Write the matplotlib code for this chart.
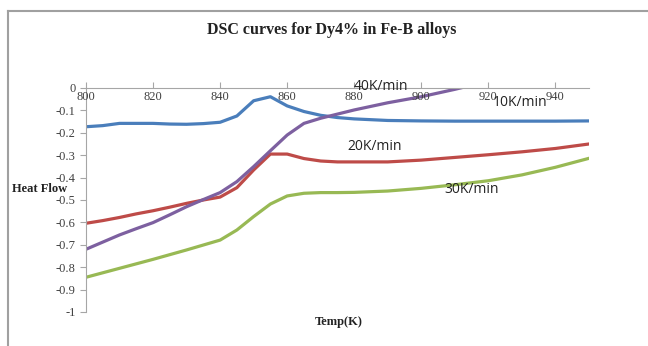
import matplotlib.pyplot as plt
from matplotlib.lines import Line2D

# temperatures (K) and heat flow readings per heating rate
temp = [800, 805, 810, 815, 820, 825, 830, 835, 840, 845, 850, 855, 860, 865,
        870, 875, 880, 890, 900, 910, 920, 930, 940, 950]
flow_10 = [-0.173, -0.168, -0.158, -0.158, -0.158, -0.161, -0.162, -0.159, -0.153,
           -0.125, -0.057, -0.039, -0.08, -0.105, -0.122, -0.132, -0.138, -0.145,
           -0.147, -0.148, -0.148, -0.148, -0.148, -0.147]
flow_20 = [-0.604, -0.592, -0.578, -0.562, -0.548, -0.532, -0.515, -0.5, -0.487,
           -0.445, -0.366, -0.295, -0.295, -0.315, -0.326, -0.33, -0.33, -0.33,
           -0.322, -0.31, -0.298, -0.285, -0.27, -0.25]
flow_30 = [-0.845, -0.825, -0.805, -0.785, -0.765, -0.744, -0.723, -0.701, -0.679,
           -0.634, -0.574, -0.518, -0.482, -0.47, -0.467, -0.467, -0.466, -0.46,
           -0.448, -0.432, -0.414, -0.388, -0.354, -0.314]
temp_40 = [800, 805, 810, 815, 820, 825, 830, 835, 840, 845, 850, 855, 860, 865,
           870, 880, 890, 900, 910, 920]
flow_40 = [-0.72, -0.688, -0.656, -0.628, -0.601, -0.566, -0.53, -0.498, -0.467,
           -0.418, -0.351, -0.28, -0.21, -0.158, -0.135, -0.098, -0.066, -0.039,
           -0.006, 0.03]

fig = plt.figure(figsize=(6.48, 3.46), dpi=100)
ax = fig.add_axes([0.1327, 0.0983, 0.9089 - 0.1327, 0.7457 - 0.0983])

ax.plot(temp, flow_10, color='#4a7ebb', lw=2.3)
ax.plot(temp, flow_20, color='#be4b48', lw=2.3)
ax.plot(temp, flow_30, color='#98b954', lw=2.3)
ax.plot(temp_40, flow_40, color='#7d60a0', lw=2.3)

ax.set_xlim(800, 950)
ax.set_ylim(-1, 0)
ax.set_xticks([800, 820, 840, 860, 880, 900, 920, 940])
ax.set_yticks([0, -0.1, -0.2, -0.3, -0.4, -0.5, -0.6, -0.7, -0.8, -0.9, -1])
ax.set_yticklabels(['0', '-0.1', '-0.2', '-0.3', '-0.4', '-0.5', '-0.6', '-0.7',
                    '-0.8', '-0.9', '-1'])

ax.spines['right'].set_visible(False)
ax.spines['bottom'].set_visible(False)
ax.spines['top'].set_color('#a6a6a6')
ax.spines['left'].set_color('#a6a6a6')
ax.xaxis.set_ticks_position('top')
ax.tick_params(axis='x', direction='out', length=4, color='#a6a6a6',
               labeltop=False, labelbottom=False)
ax.tick_params(axis='y', direction='out', length=4, color='#a6a6a6')
for lab in ax.get_yticklabels():
    lab.set_fontfamily('Liberation Serif')
    lab.set_fontsize(9)
    lab.set_color('#404040')
# x tick labels sit just below the top axis line
for t in ax.get_xticks():
    ax.text(t, -0.015, str(int(t)), ha='center', va='top', fontsize=9,
            family='Liberation Serif', color='#404040')

lab_font = dict(fontsize=10, family='Open Sans', color='#222222')
ax.text(888, 0.005, '40K/min', ha='center', va='center', **lab_font)
ax.text(929.5, -0.067, '10K/min', ha='center', va='center', **lab_font)
ax.text(886, -0.263, '20K/min', ha='center', va='center', **lab_font)
ax.text(915, -0.451, '30K/min', ha='center', va='center', **lab_font)

fig.text(0.512, 0.912, 'DSC curves for Dy4% in Fe-B alloys', ha='center', va='center',
         fontsize=11.5, fontweight='bold', family='Liberation Serif', color='#222222')
fig.text(0.019, 0.455, 'Heat Flow', ha='left', va='center', fontsize=9,
         fontweight='bold', family='Liberation Serif', color='#222222')
fig.text(0.522, 0.07, 'Temp(K)', ha='center', va='center', fontsize=9,
         fontweight='bold', family='Liberation Serif', color='#222222')

# chart area border (top and left edges visible)
fig.add_artist(Line2D([0.013, 1.0], [0.968, 0.968], transform=fig.transFigure,
                      color='#a0a0a0', lw=1.5))
fig.add_artist(Line2D([0.013, 0.013], [0.0, 0.968], transform=fig.transFigure,
                      color='#a0a0a0', lw=1.5))

fig.savefig('out.png', dpi=100)
